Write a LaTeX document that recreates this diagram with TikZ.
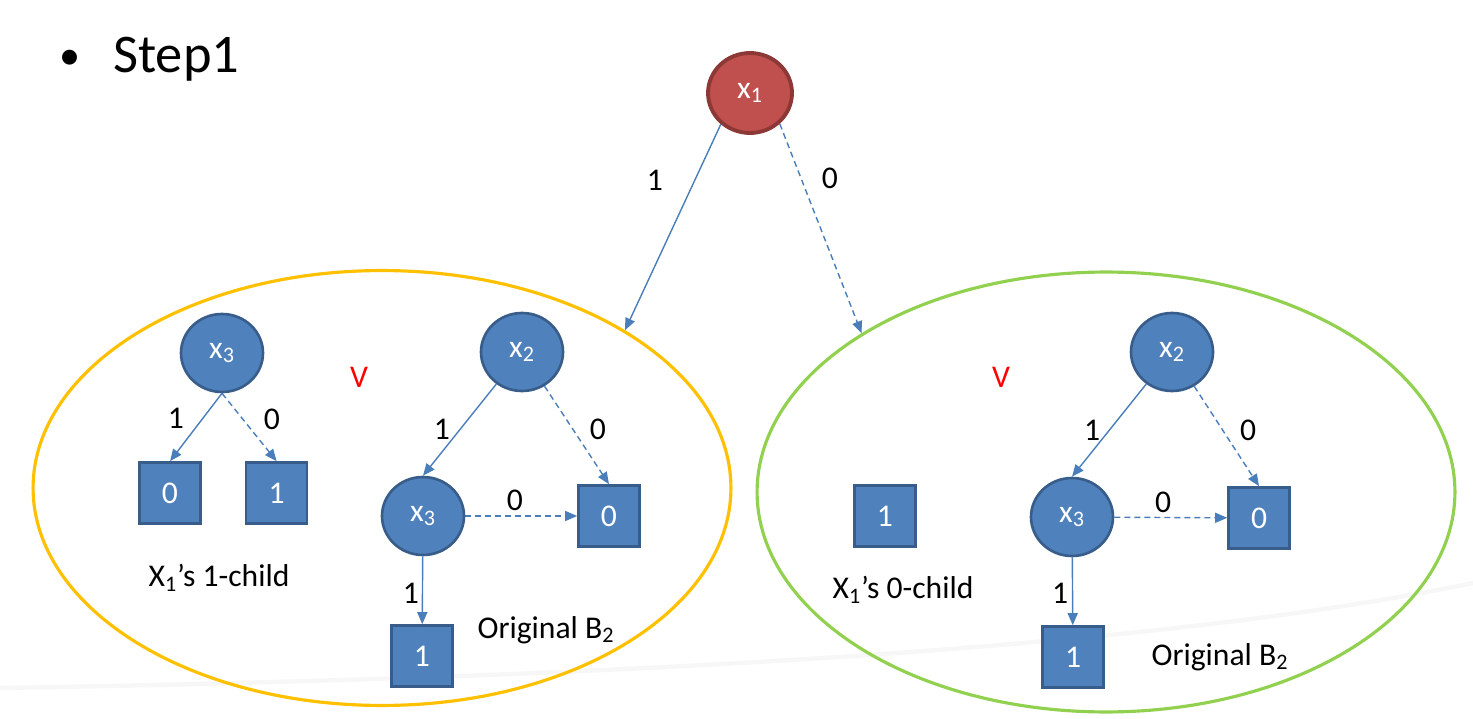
\documentclass[tikz,border=0pt]{standalone}
\usepackage{fontspec}
\setmainfont{Carlito}
\usetikzlibrary{positioning, arrows.meta, shapes.geometric}

\definecolor{nodeblue}{HTML}{4F81BD}
\definecolor{nodeline}{HTML}{385D8A}
\definecolor{rootred}{HTML}{C0504D}
\definecolor{rootline}{HTML}{8C3836}
\definecolor{edgeblue}{HTML}{4A7EBB}
\definecolor{grouporange}{HTML}{FFC000}
\definecolor{groupgreen}{HTML}{92D050}

\begin{document}
\begin{tikzpicture}[x=0.02cm, y=-0.02cm]

	% Define styles
	\tikzset{
		varnode/.style={
			ellipse, draw=nodeline, fill=nodeblue, line width=1.5pt,
			minimum width=1.64cm, minimum height=1.56cm, inner sep=0pt,
			text=white, font=\fontsize{18}{20}\selectfont
		},
		rootnode/.style={varnode, draw=rootline, fill=rootred, line width=2.2pt,
			minimum width=1.68cm, minimum height=1.6cm},
		leafbox/.style={
			rectangle, draw=nodeline, fill=nodeblue, line width=1.5pt,
			minimum size=1.22cm, inner sep=0pt,
			text=white, font=\fontsize{18}{20}\selectfont
		},
		group/.style={ellipse, line width=1.8pt, minimum width=13.96cm, minimum height=8.7cm},
		lbl/.style={inner sep=0pt, font=\fontsize{18}{20}\selectfont},
		orsign/.style={lbl, text=red},
		titlefont/.style={font=\fontsize{31}{36}\selectfont},
		arrow/.style={draw=edgeblue, line width=0.8pt, -{Triangle[length=2.4mm, width=2mm]}},
		dashedarrow/.style={arrow, dash pattern=on 3.4pt off 2.3pt}
	}

	\useasboundingbox (0,0) rectangle (1473,719);

	% Slide swoosh
	\draw[black!3, line width=2.5pt] (0,688) .. controls (600,678) and (1150,650) .. (1473,583);

	% Title
	\node (bullet) [font=\fontsize{24}{28}\selectfont, anchor=base] at (70,70) {•};
	\node (title)  [titlefont, anchor=base west] at (107,73) {Step1};

	% Groups
	\node (grpone)  [group, draw=grouporange] at (382,488) {};
	\node (grpzero) [group, draw=groupgreen, minimum height=8.8cm] at (1106,492) {};

	% Root
	\node (xone) [rootnode] at (750,93) {x\textsubscript{1}};

	% 1-child group
	\node (xthreeA) [varnode] at (222,353) {x\textsubscript{3}};
	\node (zeroA)   [leafbox] at (170,493) {0};
	\node (oneA)    [leafbox, right=0.86cm of zeroA] {1};
	\node (onechild) [lbl] at (219,578) {X\textsubscript{1}’s 1-child};
	\node (orA)     [orsign] at (359,377) {V};
	\node (xtwoA)   [varnode] at (522,352) {x\textsubscript{2}};
	\node (xthreeB) [varnode] at (423,516) {x\textsubscript{3}};
	\node (zeroB)   [leafbox] at (609,516) {0};
	\node (oneB)    [leafbox] at (422,656) {1};
	\node (origA)   [lbl] at (546,630) {Original B\textsubscript{2}};

	% 0-child group
	\node (oneC)    [leafbox] at (885,516) {1};
	\node (zerochild) [lbl] at (903,590) {X\textsubscript{1}’s 0-child};
	\node (orB)     [orsign] at (1001,377) {V};
	\node (xtwoB)   [varnode] at (1172,352) {x\textsubscript{2}};
	\node (xthreeC) [varnode] at (1072,517) {x\textsubscript{3}};
	\node (zeroC)   [leafbox] at (1259,518) {0};
	\node (oneD)    [leafbox] at (1073,657) {1};
	\node (origB)   [lbl] at (1220,657) {Original B\textsubscript{2}};

	% Edge labels
	\node (lroot1) [lbl] at (655,180) {1};
	\node (lroot0) [lbl] at (830,178) {0};
	\node (lA1) [lbl] at (176,418) {1};
	\node (lA0) [lbl] at (272,419) {0};
	\node (lB1) [lbl] at (442,429) {1};
	\node (lB0) [lbl] at (598,429) {0};
	\node (lC0) [lbl] at (515,500) {0};
	\node (lC1) [lbl] at (411,593) {1};
	\node (lD1) [lbl] at (1092,430) {1};
	\node (lD0) [lbl] at (1248,430) {0};
	\node (lE0) [lbl] at (1163,502) {0};
	\node (lE1) [lbl] at (1060,593) {1};

	% Arrows from root
	\draw[arrow] (xone.227) -- (grpone.33);
	\draw[dashedarrow] (xone.314) -- (grpzero.147);

	% 1-child group arrows
	\draw[arrow] (xthreeA.south) -- (zeroA.north);
	\draw[dashedarrow] (xthreeA.south) -- (oneA.north);
	\draw[arrow] (xtwoA) -- (xthreeB.north);
	\draw[dashedarrow] (xtwoA) -- (zeroB.north);
	\draw[dashedarrow] (xthreeB) -- (zeroB);
	\draw[arrow] (xthreeB) -- (oneB);

	% 0-child group arrows
	\draw[arrow] (xtwoB) -- (xthreeC.north);
	\draw[dashedarrow] (xtwoB) -- (zeroC.north);
	\draw[dashedarrow] (xthreeC) -- (zeroC);
	\draw[arrow] (xthreeC) -- (oneD);

\end{tikzpicture}
\end{document}
